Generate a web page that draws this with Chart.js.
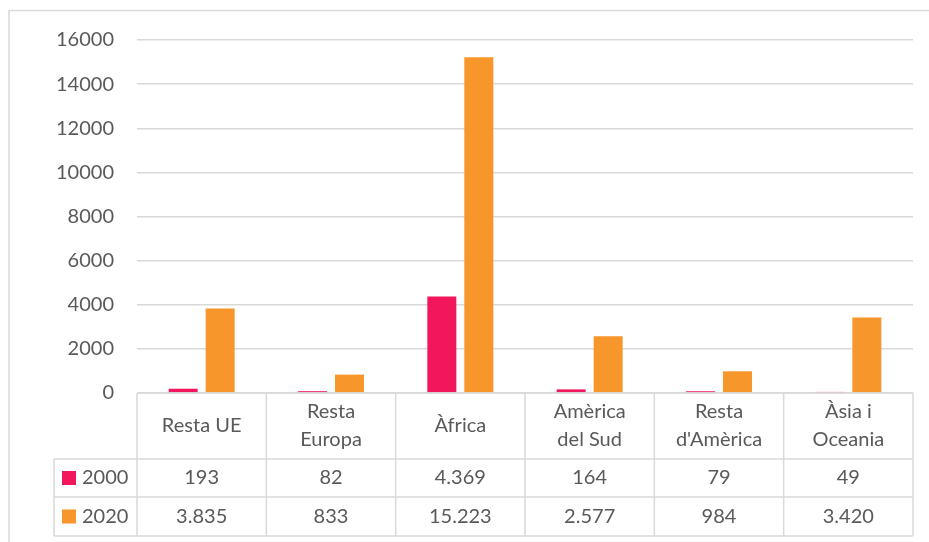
<!DOCTYPE html>
<html>
<head>
<meta charset="utf-8">
<script src="https://cdn.jsdelivr.net/npm/chart.js@4"></script>
<style>
  body { margin: 0; background: #fff; }
</style>
</head>
<body>
<canvas id="myChart" width="929" height="542"></canvas>
<script>
// categories (two-line labels as in the data table header)
var regions = [['Resta UE'], ['Resta', 'Europa'], ['Àfrica'], ['Amèrica', 'del Sud'], ['Resta', "d'Amèrica"], ['Àsia i', 'Oceania']];
var years = ['2000', '2020'];
var values2000 = [193, 82, 4369, 164, 79, 49];
var values2020 = [3835, 833, 15223, 2577, 984, 3420];
var yTicks = [0, 2000, 4000, 6000, 8000, 10000, 12000, 14000, 16000];

var pink = '#F2165C';
var orange = '#F7962A';
var grey = '#D9D9D9';
var textColor = '#595959';
var fontFam = 'Lato, "Open Sans", sans-serif';

function fmt(v) {
    // catalan thousands separator
    return String(v).replace(/\B(?=(\d{3})+(?!\d))/g, '.');
}

// draws the outer frame and the data table under the chart
var tablePlugin = {
    id: 'dataTable',
    afterDraw: function(chart) {
        var ctx = chart.ctx;
        var x = chart.scales.x;
        var area = chart.chartArea;
        var colW = (area.right - area.left) / regions.length;
        var top = area.bottom;
        var row1 = 459, row2 = 497, bottom = 536;
        var legLeft = 54;

        ctx.save();
        // outer frame
        ctx.strokeStyle = grey;
        ctx.lineWidth = 1.5;
        ctx.beginPath();
        ctx.moveTo(9, 542);
        ctx.lineTo(9, 10.5);
        ctx.lineTo(929, 10.5);
        ctx.stroke();

        // table lines
        ctx.lineWidth = 1.5;
        ctx.beginPath();
        ctx.moveTo(area.left, top); ctx.lineTo(area.right, top);
        [row1, row2, bottom].forEach(function(y) {
            ctx.moveTo(legLeft, y); ctx.lineTo(area.right, y);
        });
        for (var i = 0; i <= regions.length; i++) {
            var bx = area.left + i * colW;
            ctx.moveTo(bx, top); ctx.lineTo(bx, bottom);
        }
        ctx.moveTo(legLeft, row1); ctx.lineTo(legLeft, bottom);
        ctx.stroke();

        // text
        ctx.fillStyle = textColor;
        ctx.font = '20px ' + fontFam;
        ctx.textAlign = 'center';
        ctx.textBaseline = 'middle';
        var lineH = 28;
        var headMid = (top + row1) / 2;
        for (var j = 0; j < regions.length; j++) {
            var cx = x.getPixelForValue(j);
            var lines = regions[j];
            var y0 = headMid - (lines.length - 1) * lineH / 2;
            lines.forEach(function(t, k) {
                ctx.fillText(t, cx, y0 + k * lineH);
            });
            ctx.fillText(fmt(values2000[j]), cx, (row1 + row2) / 2);
            ctx.fillText(fmt(values2020[j]), cx, (row2 + bottom) / 2);
        }

        // legend keys
        var rows = [[row1, row2], [row2, bottom]];
        chart.data.datasets.forEach(function(ds, d) {
            var my = (rows[d][0] + rows[d][1]) / 2;
            ctx.fillStyle = ds.backgroundColor;
            ctx.fillRect(62, my - 7, 14, 14);
            ctx.fillStyle = textColor;
            ctx.textAlign = 'left';
            ctx.fillText(ds.label, 82, my);
        });
        ctx.restore();
    }
};

var ctx = document.getElementById('myChart').getContext('2d');
var myChart = new Chart(ctx, {
    type: 'bar',
    data: {
        labels: regions.map(function(r) { return r.join(' '); }),
        datasets: [{
            label: years[0],
            data: values2000,
            backgroundColor: pink
        }, {
            label: years[1],
            data: values2020,
            backgroundColor: orange
        }]
    },
    options: {
        responsive: false,
        devicePixelRatio: 1,
        animation: false,
        layout: {
            padding: { left: 0, top: 40, right: 16, bottom: 149 }
        },
        datasets: {
            bar: { categoryPercentage: 0.572, barPercentage: 0.784 }
        },
        plugins: {
            legend: { display: false },
            tooltip: { enabled: false }
        },
        scales: {
            x: {
                display: false
            },
            y: {
                min: 0,
                max: 16000,
                afterBuildTicks: function(scale) {
                    scale.ticks = yTicks.map(function(v) { return { value: v }; });
                },
                afterFit: function(scale) { scale.width = 137; },
                border: { display: false },
                grid: { color: grey, lineWidth: 1.5, drawTicks: false },
                ticks: {
                    color: textColor,
                    padding: 23,
                    font: { family: fontFam, size: 20 },
                    callback: function(v) { return String(v); }
                }
            }
        }
    },
    plugins: [tablePlugin]
});
</script>
</body>
</html>
